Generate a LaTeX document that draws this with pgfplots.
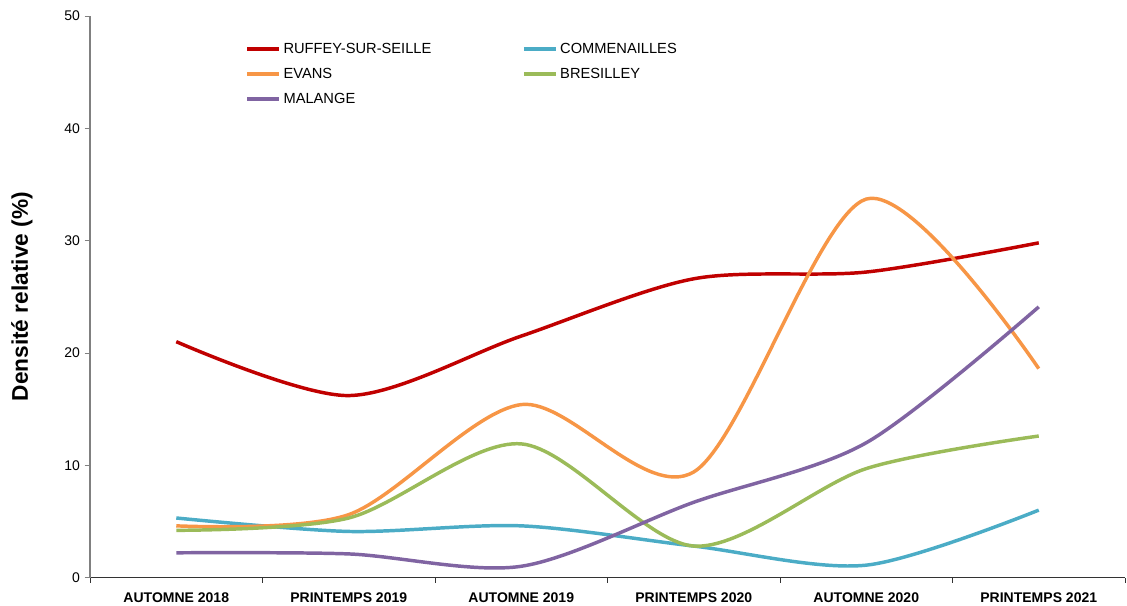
\documentclass[border=0pt]{standalone}
\usepackage{pgfplots}
\pgfplotsset{compat=1.18}
\usepackage{fontspec}
\setmainfont{Liberation Sans}
\definecolor{cRuf}{HTML}{C00000}
\definecolor{cCom}{HTML}{4BACC6}
\definecolor{cEva}{HTML}{F79646}
\definecolor{cBre}{HTML}{9BBB59}
\definecolor{cMal}{HTML}{8064A2}
\begin{document}
\begin{tikzpicture}
\begin{axis}[
  name=ax,
  scale only axis,
  width=776pt, height=421pt,
  xmin=-0.5, xmax=5.5,
  ymin=0, ymax=50,
  axis lines*=left,
  x axis line style={black!80, line width=0.8pt},
  y axis line style={gray, line width=0.8pt},
  xtick={0,1,2,3,4,5},
  xticklabels={AUTOMNE 2018,PRINTEMPS 2019,AUTOMNE 2019,PRINTEMPS 2020,AUTOMNE 2020,PRINTEMPS 2021},
  x tick label style={font=\fontsize{10.5}{12}\selectfont\bfseries, yshift=-4pt},
  major x tick style={draw=none},
  minor xtick={-0.5,0.5,1.5,2.5,3.5,4.5,5.5},
  minor x tick style={black!80, line width=0.6pt},
  minor tick length=4pt,
  ytick={0,10,20,30,40,50},
  y tick style={gray, line width=0.6pt},
  major tick length=4pt,
  tick align=outside,
  y tick label style={font=\fontsize{10.5}{12}\selectfont},
  /pgf/number format/assume math mode=true,
  ylabel={Densité relative (\%)},
  ylabel style={font=\fontsize{17}{20}\selectfont\bfseries, yshift=17pt},
  legend columns=2,
  legend cell align=left,
  legend style={draw=none, fill=none, at={(0.146,0.962)}, anchor=north west,
    font=\fontsize{11}{13}\selectfont, row sep=5.5pt,
    /tikz/every even column/.append style={column sep=66pt}},
  legend image code/.code={\draw[#1] (0pt,0pt) -- (24pt,0pt);},
  every axis plot/.append style={line width=2.6pt, smooth, no markers},
]
\addplot[cRuf] coordinates {(0,21.0) (1,16.2) (2,21.5) (3,26.6) (4,27.2) (5,29.8)};
\addlegendentry{RUFFEY-SUR-SEILLE}
\addplot[cCom] coordinates {(0,5.3) (1,4.1) (2,4.6) (3,2.8) (4,1.1) (5,6.0)};
\addlegendentry{COMMENAILLES}
\addplot[cEva] coordinates {(0,4.6) (1,5.6) (2,15.4) (3,9.4) (4,33.7) (5,18.6)};
\addlegendentry{EVANS}
\addplot[cBre] coordinates {(0,4.2) (1,5.3) (2,11.9) (3,2.8) (4,9.7) (5,12.6)};
\addlegendentry{BRESILLEY}
\addplot[cMal] coordinates {(0,2.2) (1,2.1) (2,1.0) (3,6.7) (4,12.0) (5,24.1)};
\addlegendentry{MALANGE}
\end{axis}
\pgfresetboundingbox
\path ([shift={(-67.5pt,-21pt)}]ax.south west) rectangle ([shift={(1.5pt,12pt)}]ax.north east);
\end{tikzpicture}
\end{document}
